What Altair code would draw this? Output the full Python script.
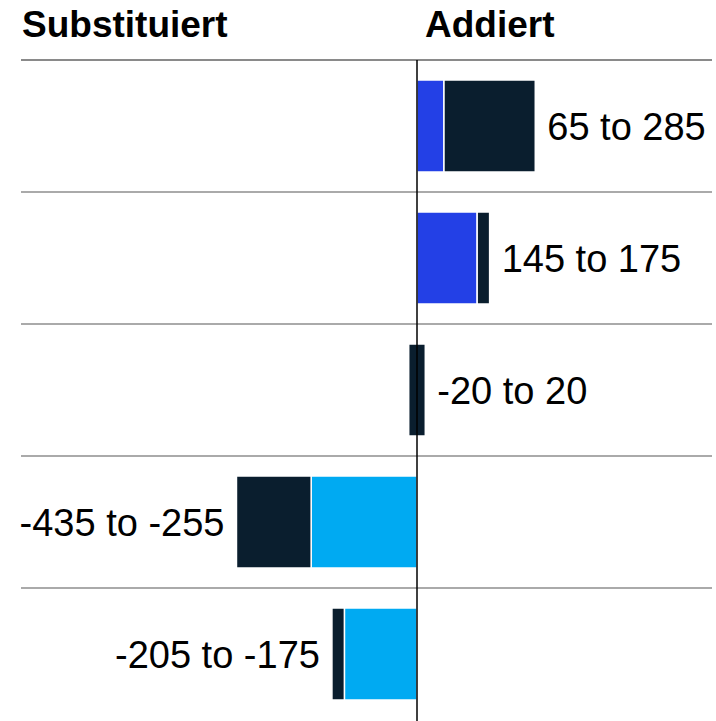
import altair as alt
import pandas as pd

rows = ["r1", "r2", "r3", "r4", "r5"]
low = [65, 145, -20, -255, -175]
high = [285, 175, 20, -435, -205]
labels = ["65 to 285", "145 to 175", "-20 to 20", "-435 to -255", "-205 to -175"]
base_color = ["#2340e6", "#2340e6", "#0a1e2e", "#00aaf2", "#00aaf2"]
headers = ["Substituiert", "Addiert"]

seg_rows, seg_start, seg_end, seg_color = [], [], [], []
for r, lo, hi, c in zip(rows, low, high, base_color):
    if lo * hi < 0:
        seg_rows.append(r); seg_start.append(lo); seg_end.append(hi); seg_color.append("#0a1e2e")
    else:
        seg_rows.append(r); seg_start.append(0); seg_end.append(lo); seg_color.append(c)
        seg_rows.append(r); seg_start.append(lo); seg_end.append(hi); seg_color.append("#0a1e2e")
segs = pd.DataFrame({"row": seg_rows, "start": seg_start, "end": seg_end, "color": seg_color})

lab = pd.DataFrame({
    "row": rows,
    "label": labels,
    "pos": high,
    "side": ["right" if hi > 0 else "left" for hi in high],
})

PX = 0.415            # pixels per unit
X0 = 417              # pixel of zero
dom = [-X0 / PX, (716 - X0) / PX]
xs = alt.Scale(domain=dom, nice=False, zero=False)
ys = alt.Scale(domain=rows, range=[60, 720], paddingInner=0, paddingOuter=0)

bars = alt.Chart(segs).mark_bar(height=92, stroke="white", strokeWidth=1.5).encode(
    x=alt.X("start:Q", scale=xs, axis=None),
    x2="end:Q",
    y=alt.Y("row:N", scale=ys, axis=None),
    color=alt.Color("color:N", scale=None),
)

lab_r = alt.Chart(lab).transform_filter("datum.side == 'right'").mark_text(
    align="left", baseline="middle", dx=12, dy=3, fontSize=38, font="Liberation Sans", color="#000"
).encode(x=alt.X("pos:Q", scale=xs, axis=None), y=alt.Y("row:N", scale=ys, axis=None), text="label:N")

lab_l = alt.Chart(lab).transform_filter("datum.side == 'left'").mark_text(
    align="right", baseline="middle", dx=-12, dy=3, fontSize=38, font="Liberation Sans", color="#000"
).encode(x=alt.X("pos:Q", scale=xs, axis=None), y=alt.Y("row:N", scale=ys, axis=None), text="label:N")

sep_df = pd.DataFrame({
    "row": rows,
    "xa": [(21 - X0) / PX] * 5,
    "xb": [(712 - X0) / PX] * 5,
    "c": ["#8a8a8a"] + ["#aaaaaa"] * 4,
})
seps = alt.Chart(sep_df).mark_rule(strokeWidth=2, yOffset=-66).encode(
    y=alt.Y("row:N", scale=ys, axis=None),
    x=alt.X("xa:Q", scale=xs, axis=None),
    x2="xb:Q",
    color=alt.Color("c:N", scale=None),
)

zero = alt.Chart(pd.DataFrame({"z": [0]})).mark_rule(color="#000", strokeWidth=1.5).encode(
    x=alt.X("z:Q", scale=xs, axis=None),
    y=alt.value(60),
    y2=alt.value(721),
)

hdr = pd.DataFrame({"h": headers, "p": [(22 - X0) / PX, (425 - X0) / PX]})
heads = alt.Chart(hdr).mark_text(
    align="left", baseline="alphabetic", fontSize=37, fontWeight="bold", font="Liberation Sans", color="#000"
).encode(x=alt.X("p:Q", scale=xs, axis=None), y=alt.value(37), text="h:N")

chart = alt.layer(seps, bars, zero, lab_r, lab_l, heads).properties(
    width=716, height=721, autosize="none", padding=0,
).configure_view(stroke=None)

chart.save("out.html", embed_options={"renderer": "svg", "actions": False})
